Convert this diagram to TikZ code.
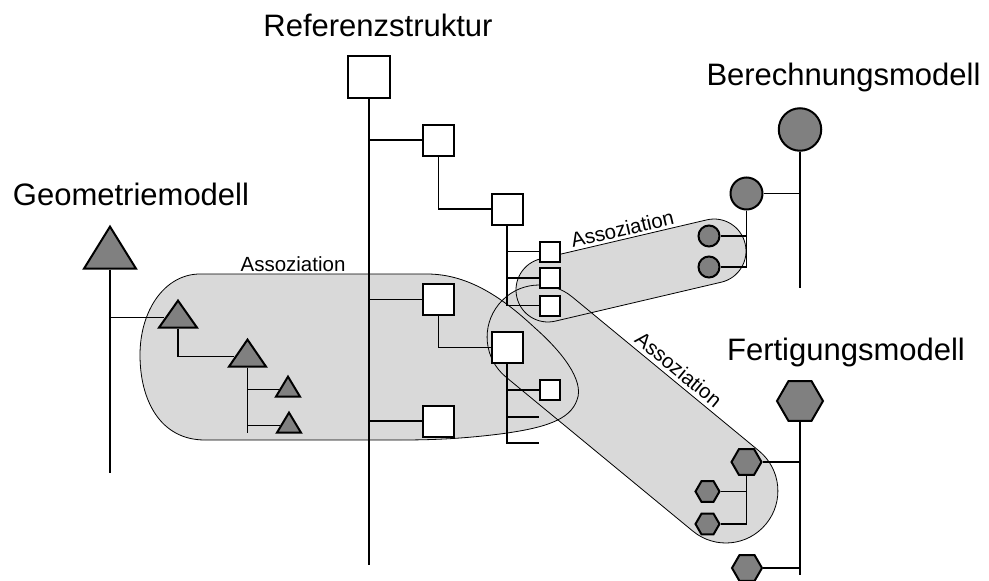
\documentclass[tikz,border=0pt]{standalone}
\usepackage{fontspec}
\setmainfont{Liberation Sans}
\usetikzlibrary{shapes.geometric,backgrounds}
\definecolor{blobgray}{RGB}{217,217,217}
\definecolor{partgray}{RGB}{128,128,128}

% association outlines
\newcommand\geoblob{(200,274) -- (427,274)
  .. controls (470,274) and (505,300) .. (535,328)
  .. controls (560,350) and (585,380) .. (577,400)
  .. controls (570,420) and (545,428) .. (500,434)
  .. controls (460,439) and (430,440) .. (400,440)
  -- (205,440)
  .. controls (160,440) and (140,400) .. (140,355)
  .. controls (140,310) and (165,274) .. (200,274) -- cycle}
\newcommand\calcblob{(513.75,238.5) rectangle (748.25,302.5)}
\newcommand\manublob{(459.5,362) rectangle (805.5,466)}

\tikzset{
  calcband/.style={rotate around={13.2:(631,270.5)}, rounded corners=31.9pt},
  manuband/.style={rotate around={-39.5:(632.5,414)}, rounded corners=51.9pt},
  blob/.style={line width=0.8pt},
  tree/.style={line width=1.2pt},
  part/.style={draw, line width=2pt, inner sep=0pt},
  refbox/.style={part, rectangle, fill=white, minimum size=#1},
  calccirc/.style={part, circle, fill=partgray, minimum size=#1},
  manuhex/.style={part, regular polygon, regular polygon sides=6, fill=partgray, minimum size=#1},
  geotri/.style 2 args={part, isosceles triangle, isosceles triangle stretches,
    shape border rotate=90, fill=partgray, minimum width=#1, minimum height=#2, anchor=apex},
  modeltitle/.style={font=\fontsize{31}{36}\selectfont, inner sep=0pt, anchor=base},
  assoc/.style={font=\fontsize{20.5}{24}\selectfont, inner sep=0pt, anchor=base}
}

\begin{document}
\begin{tikzpicture}[x=1pt, y=-1pt]
    \useasboundingbox (0,0) rectangle (989,581);

    % shaded associations
    \begin{scope}[on background layer]
      \fill[blobgray] \geoblob;
      \fill[blobgray, calcband] \calcblob;
      \fill[blobgray, manuband] \manublob;
      \draw[blob] \geoblob;
      \draw[blob, calcband] \calcblob;
      \draw[blob, manuband] \manublob;
    \end{scope}

    % titles
    \node[modeltitle] (reftitle)  at (378,36)    {Referenzstruktur};
    \node[modeltitle] (geotitle)  at (131,205)   {Geometriemodell};
    \node[modeltitle] (calctitle) at (843.5,85)  {Berechnungsmodell};
    \node[modeltitle] (manutitle) at (846,360)   {Fertigungsmodell};

    \node[assoc]              (geoassoc)  at (293,271) {Assoziation};
    \node[assoc, rotate=13.2] (calcassoc) at (624,236) {Assoziation};
    \node[assoc, rotate=-39.5](manuassoc) at (674,375) {Assoziation};

    % reference structure
    \node[refbox=42] (R0) at (369,76.5)  {};
    \node[refbox=31] (R1) at (438.5,140) {};
    \node[refbox=31] (R2) at (507,209)   {};
    \node[refbox=20] (S1) at (550,251.5) {};
    \node[refbox=20] (S2) at (550,278)   {};
    \node[refbox=20] (S3) at (550,305.5) {};
    \node[refbox=31] (R3) at (438.5,299.5) {};
    \node[refbox=31] (R4) at (507,347.5) {};
    \node[refbox=20] (S4) at (550,390)   {};
    \node[refbox=31] (R5) at (438.5,421) {};
    \coordinate (R0end) at (369,565);
    \coordinate (R4stub1) at (539,417);
    \coordinate (R4stub2) at (539,443);

    \draw[tree] (R0) -- (R0end);
    \draw[tree] (R0 |- R1) -- (R1);
    \draw[tree] (R1) |- (R2);
    \draw[tree] (R2) |- (S1);
    \draw[tree] (R2) |- (S2);
    \draw[tree] (R2) |- (S3);
    \draw[tree] (R0 |- R3) -- (R3);
    \draw[tree] (R3) |- (R4);
    \draw[tree] (R4) |- (S4);
    \draw[tree] (R4) |- (R4stub1);
    \draw[tree] (R4) |- (R4stub2);
    \draw[tree] (R0 |- R5) -- (R5);

    % geometry model
    \node[geotri={52}{42}] (G0) at (110,224)   {};
    \node[geotri={38}{27}] (G1) at (178,298)   {};
    \node[geotri={37}{27}] (G2) at (247.5,337) {};
    \node[geotri={24}{20}] (G3) at (288,374)   {};
    \node[geotri={24}{20}] (G4) at (289,410)   {};
    \coordinate (G0end) at (110,473);
    \coordinate (G2end) at (247.5,433);

    \draw[tree] (G0) -- (G0end);
    \draw[tree] (G0 |- G1) -- (G1);
    \draw[tree] (G1) |- (G2);
    \draw[tree] (G2) -- (G2end);
    \draw[tree] (G2 |- G3) -- (G3);
    \draw[tree] (G2 |- G4) -- (G4);

    % calculation model
    \node[calccirc=42.5] (B0) at (800,129.5)   {};
    \node[calccirc=32]   (B1) at (746.5,193.5) {};
    \node[calccirc=21]   (B2) at (709,236)     {};
    \node[calccirc=21]   (B3) at (709,267)     {};
    \coordinate (B0end) at (800,288);

    \draw[tree] (B0) -- (B0end);
    \draw[tree] (B0 |- B1) -- (B1);
    \draw[tree] (B1) |- (B2);
    \draw[tree] (B1) |- (B3);

    % manufacturing model
    \node[manuhex=46] (F0) at (800,401)     {};
    \node[manuhex=30] (F1) at (746.5,462)   {};
    \node[manuhex=24] (F2) at (707.5,491.5) {};
    \node[manuhex=24] (F3) at (707.5,524)   {};
    \node[manuhex=30] (F4) at (747,568)     {};
    \coordinate (F0end) at (800,575);

    \draw[tree] (F0) -- (F0end);
    \draw[tree] (F0 |- F1) -- (F1);
    \draw[tree] (F0 |- F4) -- (F4);
    \draw[tree] (F1) |- (F2);
    \draw[tree] (F1) |- (F3);
\end{tikzpicture}
\end{document}
